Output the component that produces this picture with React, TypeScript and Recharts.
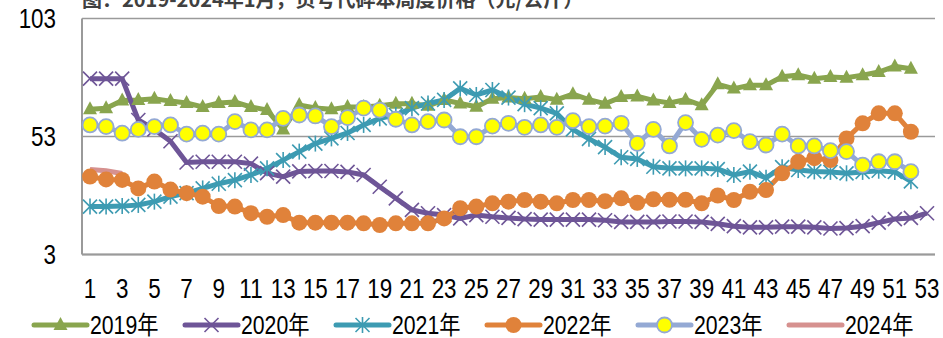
import React from 'react';
import { LineChart, Line, XAxis, YAxis, CartesianGrid, Legend } from 'recharts';

const weeks = [1, 2, 3, 4, 5, 6, 7, 8, 9, 10, 11, 12, 13, 14, 15, 16, 17, 18, 19, 20, 21, 22, 23, 24, 25, 26, 27, 28, 29, 30, 31, 32, 33, 34, 35, 36, 37, 38, 39, 40, 41, 42, 43, 44, 45, 46, 47, 48, 49, 50, 51, 52, 53];
const yTicks = [3, 53, 103];

const s2019 = [64.5, 65, 68.3, 68.5, 69, 68, 67.2, 65.5, 67.2, 67.6, 65.5, 64.2, 56, 66.3, 65.1, 64.5, 65.5, 65.5, 66, 66.9, 66.9, 66, 68.5, 67, 65.6, 69, 69.5, 69, 69.7, 68.6, 70.9, 68.6, 66.9, 69.7, 70, 68.3, 67.2, 68.6, 66.2, 75.1, 73.3, 74.7, 74.7, 78.3, 79, 77.5, 78.2, 77.9, 79, 80.3, 82.7, 81.7];
const s2020 = [77.5, 77.5, 77.5, 60, 56, 51, 42, 42.3, 42.3, 42.3, 41.5, 37.5, 36, 38.2, 38.4, 38.4, 38, 36.7, 31.7, 26.8, 21.9, 20.5, 19.7, 18.3, 19.7, 19, 18.5, 18, 17.8, 17.8, 17.8, 17.8, 17.5, 16.8, 16.8, 16.8, 17, 17, 16.8, 16, 15, 14.5, 14.5, 14.8, 14.8, 14.5, 14, 14.2, 15, 16.5, 18, 18.5, 20.5];
const s2021 = [23.3, 23.3, 23.5, 24, 25.4, 27.5, 29, 31, 33, 34.5, 36.7, 39.5, 43, 46.6, 50, 52.2, 54.5, 57.9, 60.7, 62.1, 65, 67, 68.5, 73.4, 70.6, 72.7, 69.5, 66.7, 65, 62.8, 56, 52, 48.5, 44.2, 43.5, 40.2, 39.5, 39.5, 39.5, 39.2, 36.7, 38.1, 35.5, 40, 38.8, 38.2, 38, 37.4, 38, 38.5, 38, 34];
const s2022 = [36, 34.8, 34.6, 31, 33.9, 30.5, 29, 27.5, 23.5, 23.3, 20.5, 19, 19.7, 16.5, 16.5, 16.5, 16.5, 16.2, 15.5, 16.2, 16.2, 16.2, 18.3, 22.6, 23.3, 24.7, 25.4, 26.1, 25.4, 24.7, 26.1, 26.1, 25.6, 26.8, 24.9, 26.4, 26.2, 26.2, 24.7, 28, 26.1, 29.6, 30.3, 37.4, 42.3, 43.8, 43, 52.2, 58.6, 62.8, 62.8, 55];
const s2023 = [57.9, 57.2, 54.4, 56, 57.2, 57.9, 54, 54.4, 54, 59.3, 55.8, 55.8, 60.7, 62.1, 61.7, 57.2, 61, 65, 64.2, 60.3, 57.9, 59.3, 60, 52.9, 52.9, 57.4, 58.6, 56.9, 57.9, 56.9, 59.7, 57.2, 57.4, 58.6, 50.1, 56, 49, 58.9, 51.8, 53.6, 55.5, 50.8, 49.4, 54, 49, 49, 47, 46.6, 40.9, 42.3, 42.3, 38.1];
const s2024 = [39, 38.5, 37.3];

const seriesNames = ['2019年', '2020年', '2021年', '2022年', '2023年', '2024年'];

const data = weeks.map((w, i) => ({
  week: w,
  y2019: s2019[i],
  y2020: s2020[i],
  y2021: s2021[i],
  y2022: s2022[i],
  y2023: s2023[i],
  y2024: s2024[i],
}));

const C2019 = '#89A54E';
const C2020 = '#6E5597';
const C2021 = '#3D9BB2';
const C2022 = '#E0823A';
const C2023 = '#94A9D4';
const C2024 = '#D6918F';
const YELLOW = '#FFFF00';
const AXIS = '#9A9A9A';
const FONT = '"Liberation Sans", "Noto Sans CJK SC", sans-serif';
const FS = 27;
const SX = 0.83;

type Kind = 'tri' | 'x' | 'star' | 'circle' | 'ycircle' | 'none';

function marker(kind: Kind, cx: number, cy: number, color: string, key?: string) {
  switch (kind) {
    case 'tri':
      return <polygon key={key} points={`${cx},${cy - 8} ${cx - 7},${cy + 5} ${cx + 7},${cy + 5}`} fill={color} />;
    case 'x':
      return (
        <g key={key} stroke={color} strokeWidth={1.6}>
          <line x1={cx - 7} y1={cy - 7} x2={cx + 7} y2={cy + 7} />
          <line x1={cx - 7} y1={cy + 7} x2={cx + 7} y2={cy - 7} />
        </g>
      );
    case 'star':
      return (
        <g key={key} stroke={color} strokeWidth={1.6}>
          <line x1={cx - 7} y1={cy - 7} x2={cx + 7} y2={cy + 7} />
          <line x1={cx - 7} y1={cy + 7} x2={cx + 7} y2={cy - 7} />
          <line x1={cx} y1={cy - 8} x2={cx} y2={cy + 8} />
        </g>
      );
    case 'circle':
      return <circle key={key} cx={cx} cy={cy} r={8} fill={color} />;
    case 'ycircle':
      return <circle key={key} cx={cx} cy={cy} r={7.5} fill={YELLOW} stroke={color} strokeWidth={1.8} />;
    default:
      return <g key={key} />;
  }
}

const makeDot = (kind: Kind, color: string) => (props: any) => {
  const { cx, cy, index } = props;
  if (cx == null || cy == null || Number.isNaN(cx) || Number.isNaN(cy)) return <g key={`e${index}`} />;
  return marker(kind, cx, cy, color, `d${index}`);
};

const XTick = (props: any) => {
  const { x, y, payload } = props;
  return (
    <g transform={`translate(${x},${y})`}>
      <text x={0} y={0} dy="0.71em" textAnchor="middle" transform={`scale(${SX},1)`} fill="#000" fontSize={FS} fontFamily={FONT}>
        {payload.value}
      </text>
    </g>
  );
};

const YTick = (props: any) => {
  const { x, y, payload } = props;
  return (
    <g transform={`translate(${x},${y})`}>
      <text x={0} y={0} dy="0.355em" textAnchor="end" transform={`scale(${SX},1)`} fill="#000" fontSize={FS} fontFamily={FONT}>
        {payload.value}
      </text>
    </g>
  );
};

const legendItems: { name: string; color: string; kind: Kind }[] = [
  { name: seriesNames[0], color: C2019, kind: 'tri' },
  { name: seriesNames[1], color: C2020, kind: 'x' },
  { name: seriesNames[2], color: C2021, kind: 'star' },
  { name: seriesNames[3], color: C2022, kind: 'circle' },
  { name: seriesNames[4], color: C2023, kind: 'ycircle' },
  { name: seriesNames[5], color: C2024, kind: 'none' },
];

const renderLegend = () => (
  <svg width={943} height={29} style={{ display: 'block', overflow: 'visible' }}>
    {legendItems.map((it, i) => {
      const x0 = 31 + i * 151;
      return (
        <g key={it.name}>
          <line x1={x0 + 3} y1={16} x2={x0 + 56} y2={16} stroke={it.color} strokeWidth={5} strokeLinecap="round" />
          {marker(it.kind, x0 + 29.5, 16, it.color)}
          <g transform={`translate(${x0 + 59},16)`}>
            <text x={0} y={0} dy="0.36em" transform={`scale(0.85,1)`} fill="#000" fontSize={25} fontFamily={FONT}>
              {it.name}
            </text>
          </g>
        </g>
      );
    })}
  </svg>
);

export default function App() {
  return (
    <div style={{ position: 'absolute', left: 0, top: 0, width: 943, height: 338, background: '#fff', overflow: 'hidden' }}>
      <div
        style={{
          position: 'absolute',
          left: 82,
          top: -16,
          fontFamily: '"Noto Sans CJK SC", sans-serif',
          fontSize: 20,
          fontWeight: 700,
          color: '#404040',
          whiteSpace: 'nowrap',
        }}
      >
        图：2019-2024年1月，页号代碎本周度价格（元/公斤）
      </div>
      <LineChart width={943} height={338} data={data} margin={{ top: 18.5, right: 8, bottom: 43.5, left: 0 }}>
        <CartesianGrid horizontal vertical={false} stroke={AXIS} strokeWidth={1.5} />
        <XAxis
          dataKey="week"
          interval={1}
          tickLine={false}
          tickSize={0}
          tickMargin={24}
          height={40}
          padding={{ left: 8, right: 8 }}
          axisLine={{ stroke: AXIS, strokeWidth: 2 }}
          tick={<XTick />}
        />
        <YAxis
          width={82}
          domain={[3, 103]}
          ticks={yTicks}
          interval={0}
          tickLine={false}
          tickSize={0}
          tickMargin={26}
          axisLine={{ stroke: AXIS, strokeWidth: 2 }}
          tick={<YTick />}
        />
        <Legend
          layout="horizontal"
          verticalAlign="middle"
          align="center"
          wrapperStyle={{ left: 0, top: 309, width: 943 }}
          content={renderLegend}
        />
        <Line dataKey="y2019" name={seriesNames[0]} stroke={C2019} strokeWidth={5} dot={makeDot('tri', C2019)} activeDot={false} isAnimationActive={false} />
        <Line dataKey="y2020" name={seriesNames[1]} stroke={C2020} strokeWidth={5} dot={makeDot('x', C2020)} activeDot={false} isAnimationActive={false} />
        <Line dataKey="y2021" name={seriesNames[2]} stroke={C2021} strokeWidth={5} dot={makeDot('star', C2021)} activeDot={false} isAnimationActive={false} />
        <Line dataKey="y2022" name={seriesNames[3]} stroke={C2022} strokeWidth={5} dot={makeDot('circle', C2022)} activeDot={false} isAnimationActive={false} />
        <Line dataKey="y2023" name={seriesNames[4]} stroke={C2023} strokeWidth={5} dot={makeDot('ycircle', C2023)} activeDot={false} isAnimationActive={false} />
        <Line dataKey="y2024" name={seriesNames[5]} stroke={C2024} strokeWidth={5} dot={false} activeDot={false} isAnimationActive={false} />
      </LineChart>
    </div>
  );
}
